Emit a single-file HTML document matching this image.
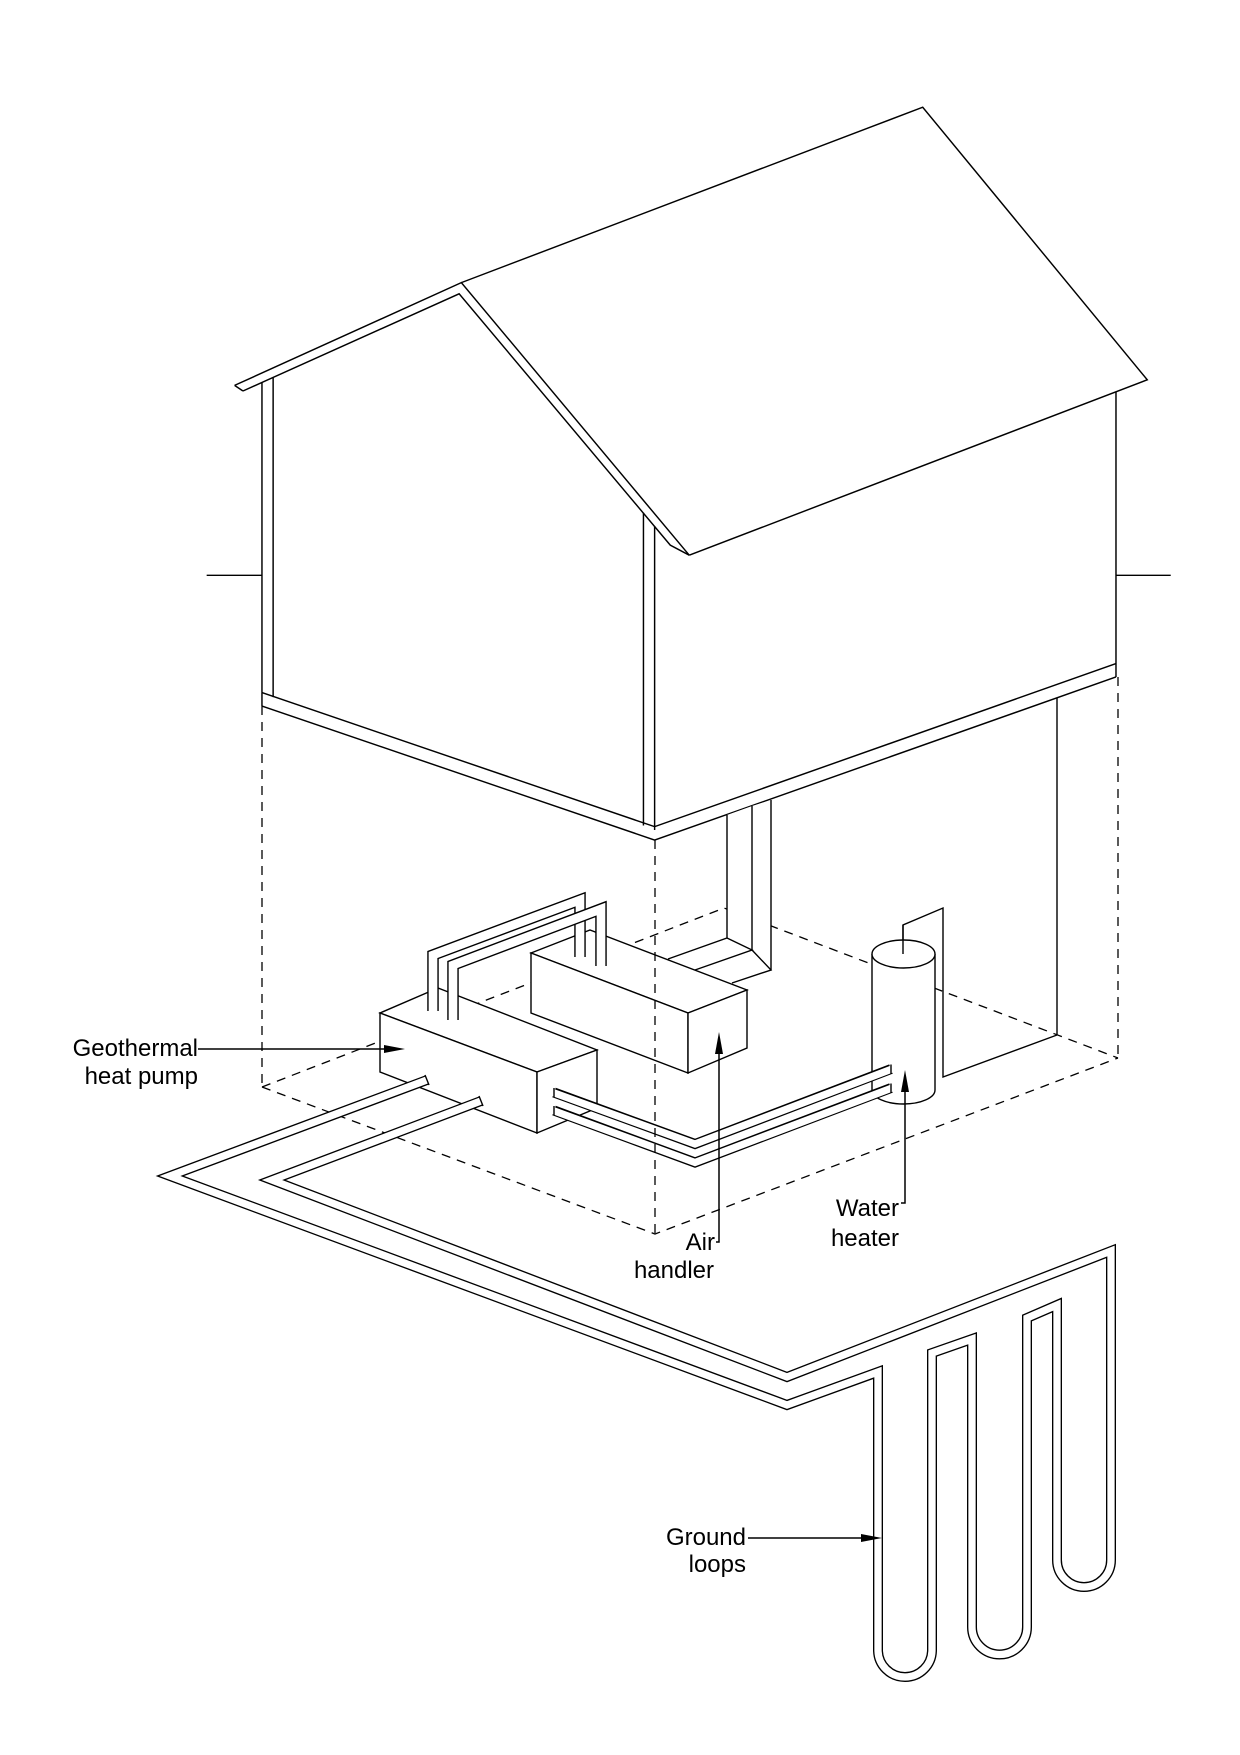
<!DOCTYPE html>
<html><head><meta charset="utf-8"><style>
html,body{margin:0;padding:0;background:#fff;}
svg{display:block;}
text{font-family:"Liberation Sans",Arial,sans-serif;font-size:24px;fill:#000;}
</style></head><body>
<svg width="1240" height="1755" viewBox="0 0 1240 1755" xmlns="http://www.w3.org/2000/svg">
<g fill="none" stroke="#000" stroke-width="1.4" stroke-linejoin="miter">
<g transform="scale(1.1171)" stroke-width="1.3">
  <polyline points="413,253 826,96 1027,340 617,497"/>
  <polyline points="210,345 413,253 617,497"/>
  <polyline points="217.5,350 411,263 600,488 617,497"/>
  <line x1="210" y1="345" x2="217.5" y2="350"/>
  <line x1="234.5" y1="342" x2="234.5" y2="620"/>
  <line x1="244.5" y1="338" x2="244.5" y2="624"/>
  <line x1="185" y1="515" x2="234.5" y2="515"/>
  <line x1="576" y1="459" x2="576" y2="739"/>
  <line x1="586" y1="471" x2="586" y2="743"/>
  <line x1="999" y1="351" x2="999" y2="606"/>
  <line x1="999" y1="515" x2="1048" y2="515"/>
  <polyline points="234.5,620 586,740 999,594"/>
  <polyline points="234.5,632 586,752 999,606"/>
  <line x1="234.5" y1="620" x2="234.5" y2="632"/>
</g>

<g stroke-dasharray="9 7" stroke-width="1.3">
  <line x1="262" y1="706" x2="262" y2="1087"/>
  <line x1="1118" y1="677" x2="1118" y2="1058"/>
  <polyline points="262,1087 655,1234 1118,1058"/>
  <polyline points="262,1087 724,908 1118,1058"/>
</g>
<line x1="1057" y1="698" x2="1057" y2="1035"/>
<polyline points="903,954 903,925 943,908 943,1077 1057,1035"/>

<polygon points="727,815 752,806 771,800 771,970 732,983 695,970 668,959 727,938" fill="#fff" stroke="none"/>
<line x1="727" y1="815" x2="727" y2="938"/>
<line x1="752" y1="806" x2="752" y2="950"/>
<line x1="771" y1="800" x2="771" y2="970"/>
<polyline points="668,959 727,938 752,950 695,970"/>
<polyline points="752,950 771,970 732,983"/>

<g fill="#fff">
  <polygon points="531,953 590,930 747,990 688,1013"/>
  <polygon points="531,953 688,1013 688,1073 531,1013"/>
  <polygon points="688,1013 747,990 747,1048 688,1073"/>
</g>
<g fill="#fff">
  <polygon points="380,1013 438,988 597,1050 537,1072"/>
  <polygon points="380,1013 537,1072 537,1133 380,1072"/>
  <polygon points="537,1072 597,1050 597,1108 537,1133"/>
</g>

<g stroke-linecap="butt">
  <polyline points="433,1011 433,955 580,900 580,957" stroke-width="11.5"/>
  <polyline points="433,1012 433,955 580,900 580,958" stroke="#fff" stroke-width="8.7"/>
  <polyline points="453,1020 453,965 601,909 601,966" stroke-width="11.5"/>
  <polyline points="453,1021 453,965 601,909 601,967" stroke="#fff" stroke-width="8.7"/>
</g>

<path d="M872,954 L872,1090 A31.5,14 0 0 0 935,1090 L935,954" fill="#fff"/>
<ellipse cx="903.5" cy="954" rx="31.5" ry="14" fill="#fff"/>
<line x1="903" y1="954" x2="903" y2="925"/>

<polyline points="554,1092.5 695,1144 891,1069" stroke-width="10"/>
<polyline points="553,1092.5 695,1144 892,1069" stroke="#fff" stroke-width="7.3"/>
<line x1="554" y1="1088" x2="554" y2="1097"/>
<line x1="891" y1="1064.5" x2="891" y2="1073.5"/>
<polyline points="554,1110.5 695,1162.5 891,1088" stroke-width="10"/>
<polyline points="553,1110.5 695,1162.5 892,1088" stroke="#fff" stroke-width="7.3"/>
<line x1="554" y1="1106" x2="554" y2="1115"/>
<line x1="891" y1="1083.5" x2="891" y2="1092.5"/>

<path d="M427,1080 L170,1176 L787,1405 L878,1372 L878,1650 A27,27 0 0 0 932,1650 L932,1353 L972,1339 L972,1627 A27.5,27.5 0 0 0 1027,1627 L1027,1318 L1057,1305 L1057,1560 A27,27 0 0 0 1111,1560 L1111,1251 L787,1377 L272,1180 L481,1101" stroke-width="10" stroke-linecap="butt"/>
<path d="M428,1079.6 L170,1176 L787,1405 L878,1372 L878,1650 A27,27 0 0 0 932,1650 L932,1353 L972,1339 L972,1627 A27.5,27.5 0 0 0 1027,1627 L1027,1318 L1057,1305 L1057,1560 A27,27 0 0 0 1111,1560 L1111,1251 L787,1377 L272,1180 L482,1100.6" stroke="#fff" stroke-width="7.3" stroke-linecap="butt"/>
<line x1="425" y1="1075" x2="429" y2="1085"/>
<line x1="479" y1="1096" x2="483" y2="1106"/>

<line x1="655" y1="840" x2="655" y2="1234" stroke-dasharray="9 7" stroke-width="1.3"/>

<line x1="198" y1="1049" x2="390" y2="1049" stroke-width="1.5"/>
<polyline points="716,1242 719,1242 719,1052" stroke-width="1.5"/>
<polyline points="901,1203 905,1203 905,1090" stroke-width="1.5"/>
<line x1="748" y1="1538" x2="866" y2="1538" stroke-width="1.5"/>
</g>
<g fill="#000">
  <polygon points="405,1049 384,1045 384,1053"/>
  <polygon points="719,1032 715,1054 723,1054"/>
  <polygon points="905,1070 901,1092 909,1092"/>
  <polygon points="882,1538 861,1534 861,1542"/>
</g>
<text x="198" y="1056" text-anchor="end">Geothermal</text>
<text x="198" y="1084" text-anchor="end">heat pump</text>
<text x="715" y="1250" text-anchor="end">Air</text>
<text x="714" y="1278" text-anchor="end">handler</text>
<text x="899" y="1216" text-anchor="end">Water</text>
<text x="899" y="1246" text-anchor="end">heater</text>
<text x="746" y="1545" text-anchor="end">Ground</text>
<text x="746" y="1572" text-anchor="end">loops</text>
</svg>
</body></html>
